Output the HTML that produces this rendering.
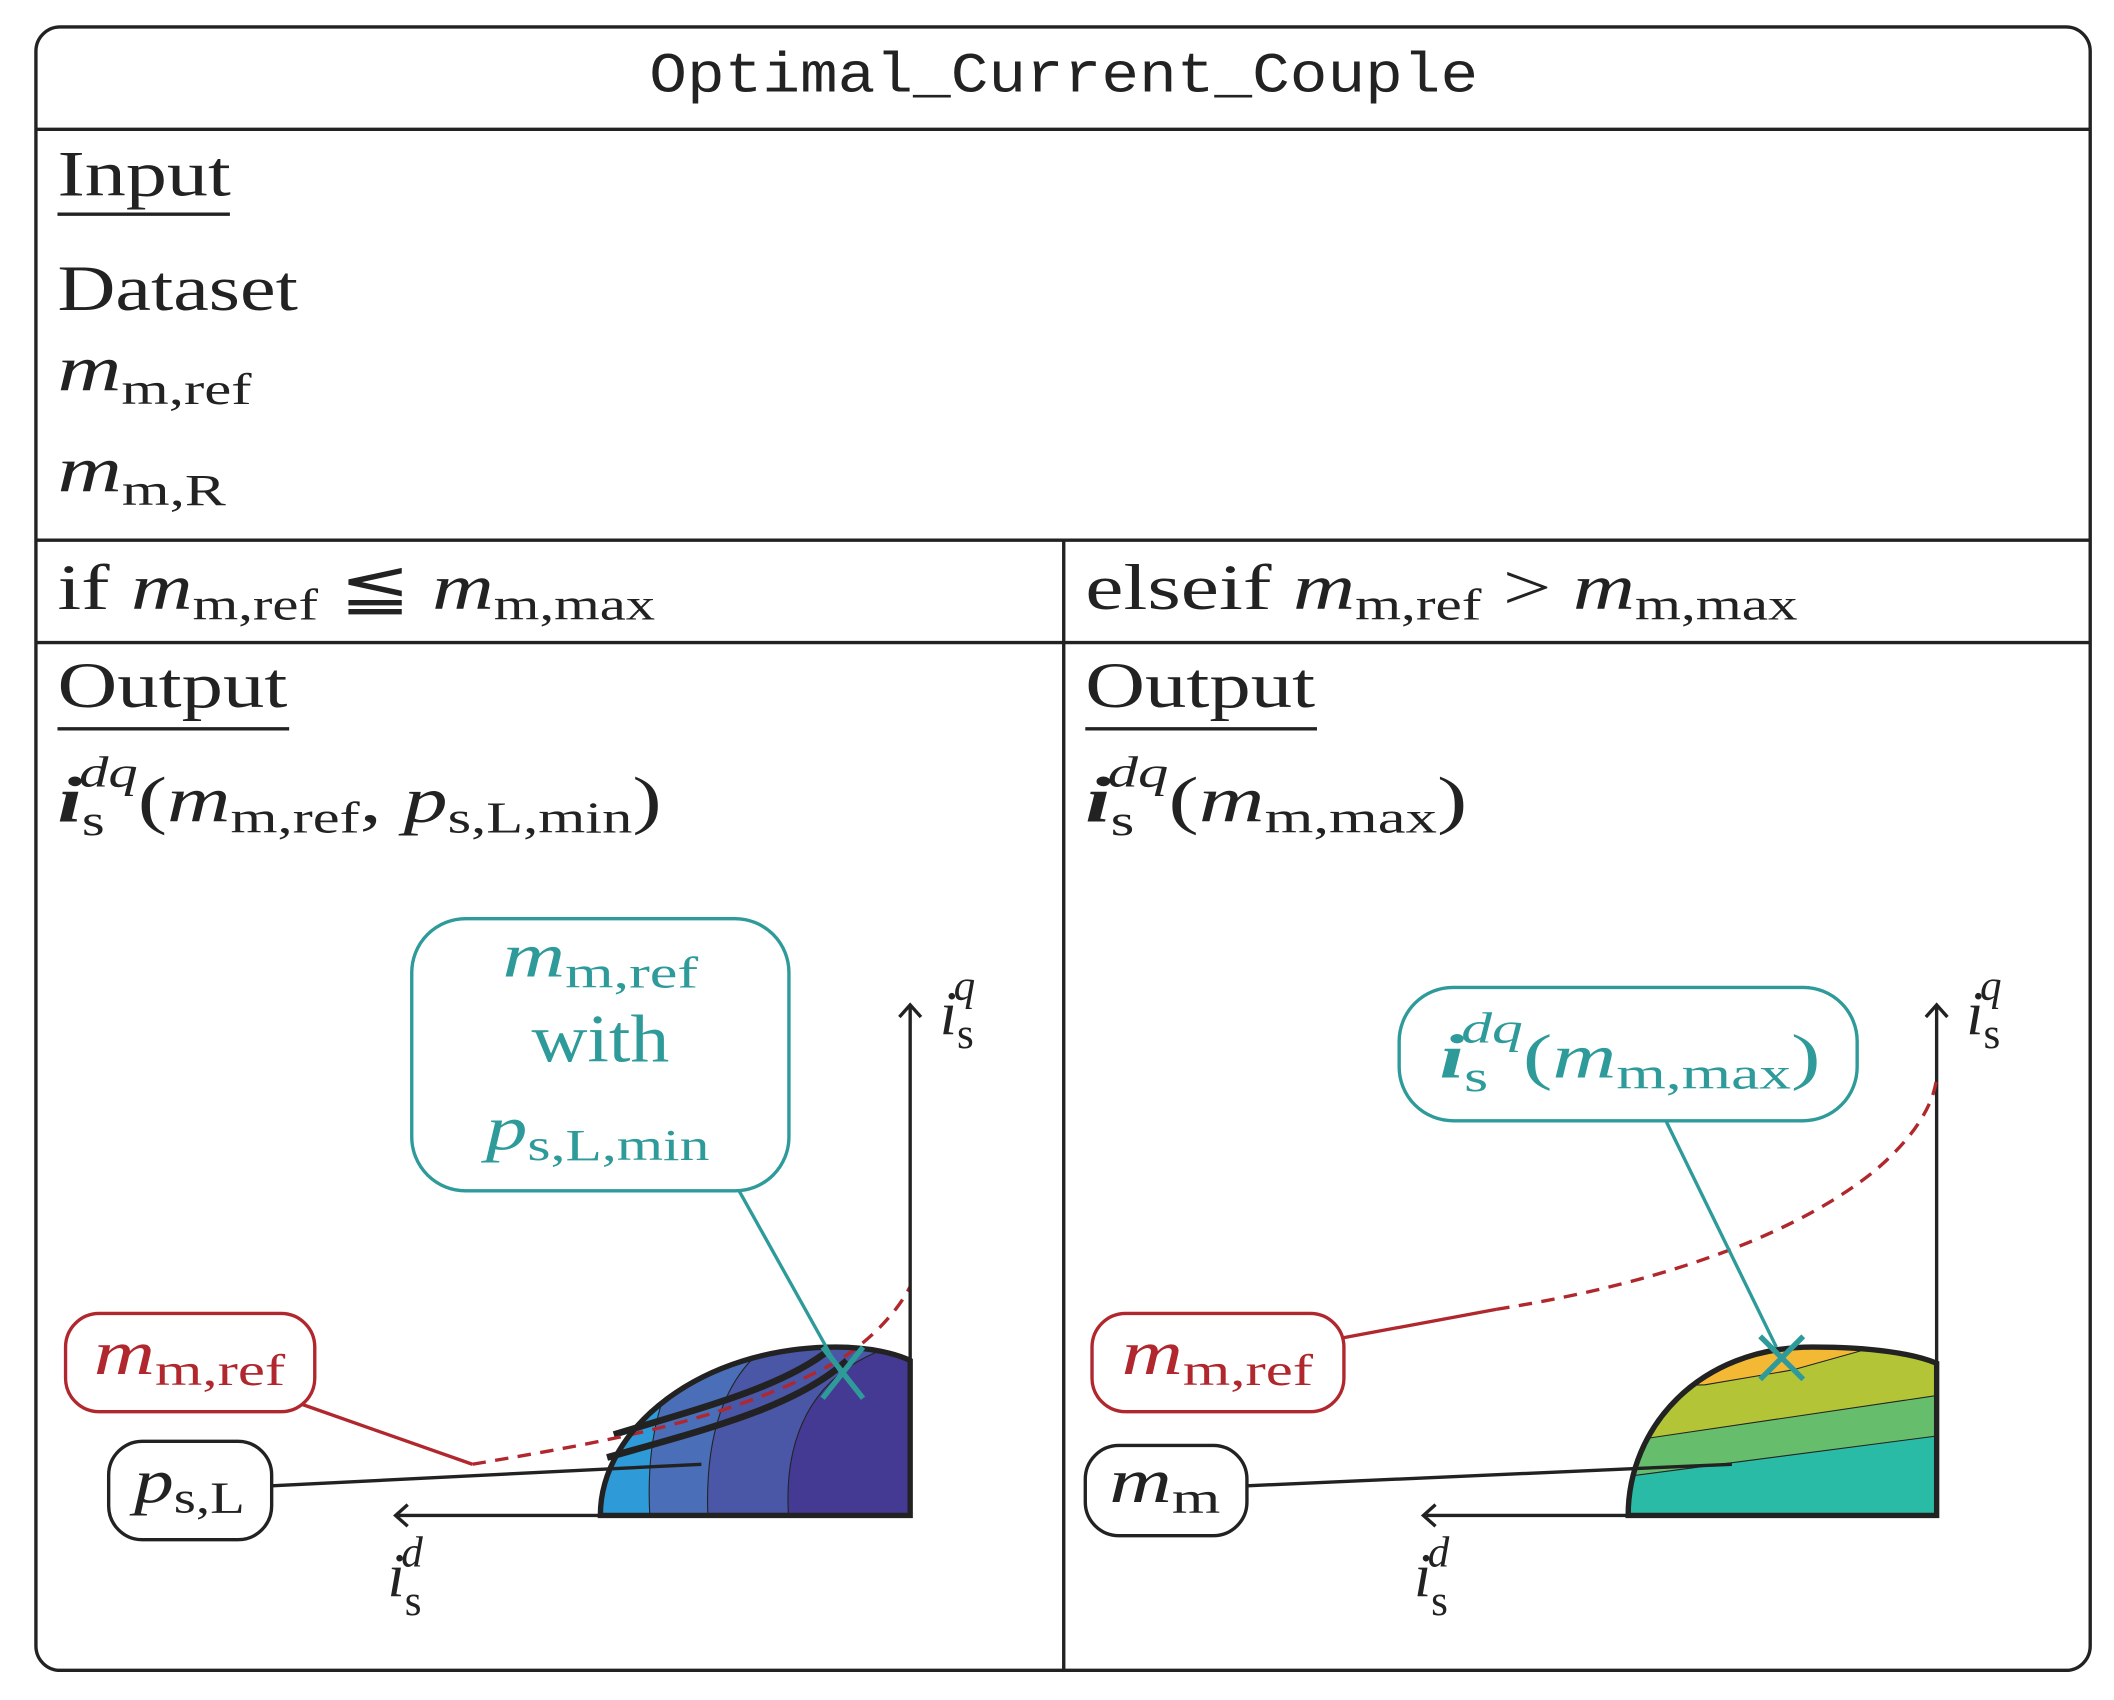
<!DOCTYPE html>
<html><head><meta charset="utf-8"><style>
html,body{margin:0;padding:0;background:#fff}
svg{display:block}
text{font-family:"Liberation Serif",serif;fill:#222}
.it{font-style:italic}
.mono{font-family:"Liberation Mono",monospace}
</style></head><body>
<svg width="2114" height="1700" viewBox="0 0 1568 1262" xmlns="http://www.w3.org/2000/svg">
<defs>
<clipPath id="cl"><path d="M445,1125 C445,1060 520,1000 620,1000 C645,1000 665,1005 675,1010 L675,1125 Z"/></clipPath>
<clipPath id="cr"><path d="M1208,1125 C1208,1060 1260,1000 1345,1000 C1390,1000 1420,1005 1437,1012 L1437,1125 Z"/></clipPath>
</defs>
<rect x="26" y="20" width="1525" height="1220" rx="18" fill="none" stroke="#222" stroke-width="2.5"/>
<line x1="26" y1="96" x2="1551" y2="96" stroke="#222" stroke-width="2.5"/>
<line x1="26" y1="401" x2="1551" y2="401" stroke="#222" stroke-width="2.5"/>
<line x1="26" y1="477" x2="1551" y2="477" stroke="#222" stroke-width="2.5"/>
<line x1="789" y1="401" x2="789" y2="1240" stroke="#222" stroke-width="2.5"/>
<g transform="translate(789,0) scale(1.11,1) translate(-789,0)"><text x="789" y="68" class="mono" font-size="42" text-anchor="middle">Optimal_Current_Couple</text></g>
<g transform="translate(42,0) scale(1.27,1) translate(-42,0)"><text x="42" y="145" font-size="48">Input</text></g>
<line x1="42" y1="159" x2="170" y2="159" stroke="#222" stroke-width="2.5"/>
<g transform="translate(42,0) scale(1.24,1) translate(-42,0)"><text x="42" y="230" font-size="48">Dataset</text></g>
<g transform="translate(42,0) scale(1.37,1) translate(-42,0)"><text x="42" y="290" font-size="48"><tspan class="it">m</tspan><tspan font-size="33" dy="10">m,ref</tspan></text></g>
<g transform="translate(42,0) scale(1.38,1) translate(-42,0)"><text x="42" y="365" font-size="48"><tspan class="it">m</tspan><tspan font-size="33" dy="10">m,R</tspan></text></g>
<g transform="translate(42,0) scale(1.32,1) translate(-42,0)"><text x="42" y="452" font-size="48">if <tspan class="it">m</tspan><tspan font-size="33" dy="8">m,ref</tspan><tspan dy="-8"> ≦ </tspan><tspan class="it">m</tspan><tspan font-size="33" dy="8">m,max</tspan></text></g>
<g transform="translate(805,0) scale(1.33,1) translate(-805,0)"><text x="805" y="452" font-size="48">elseif <tspan class="it">m</tspan><tspan font-size="33" dy="8">m,ref</tspan><tspan dy="-8"> &gt; </tspan><tspan class="it">m</tspan><tspan font-size="33" dy="8">m,max</tspan></text></g>
<g transform="translate(42,0) scale(1.28,1) translate(-42,0)"><text x="42" y="525" font-size="48">Output</text></g>
<line x1="42" y1="541" x2="214" y2="541" stroke="#222" stroke-width="2.5"/>
<g transform="translate(805,0) scale(1.28,1) translate(-805,0)"><text x="805" y="525" font-size="48">Output</text></g>
<line x1="805" y1="541" x2="977" y2="541" stroke="#222" stroke-width="2.5"/>
<g transform="translate(42,0) scale(1.36,1) translate(-42,0)"><text x="42" y="610" font-size="48"><tspan class="it" font-weight="bold">i</tspan><tspan font-size="32" dy="10">s</tspan><tspan class="it" font-size="32" dx="-14" dy="-36">dq</tspan><tspan dy="26">(</tspan><tspan class="it">m</tspan><tspan font-size="33" dy="8">m,ref</tspan><tspan dy="-8">, </tspan><tspan class="it">p</tspan><tspan font-size="33" dy="8">s,L,min</tspan><tspan dy="-8">)</tspan></text></g>
<g transform="translate(805,0) scale(1.41,1) translate(-805,0)"><text x="805" y="610" font-size="48"><tspan class="it" font-weight="bold">i</tspan><tspan font-size="32" dy="10">s</tspan><tspan class="it" font-size="32" dx="-14" dy="-36">dq</tspan><tspan dy="26">(</tspan><tspan class="it">m</tspan><tspan font-size="33" dy="8">m,max</tspan><tspan dy="-8">)</tspan></text></g>

<!-- left plot -->
<g clip-path="url(#cl)">
<rect x="440" y="990" width="240" height="140" fill="#2e9bd8"/>
<path d="M482,1130 C478,1070 490,1020 520,995 L680,990 L680,1130Z" fill="#4a6fb8" stroke="#222" stroke-width="0.8"/>
<path d="M525,1130 C522,1070 535,1020 575,995 L680,990 L680,1130Z" fill="#4a56a6" stroke="#222" stroke-width="0.8"/>
<path d="M585,1130 C580,1070 600,1020 660,1000 L680,990 L680,1130Z" fill="#443a94" stroke="#222" stroke-width="0.8"/>
</g>
<path d="M455,1065 C520,1045 580,1030 615,1002" fill="none" stroke="#222" stroke-width="5"/>
<path d="M450,1082 C520,1062 590,1045 628,1010" fill="none" stroke="#222" stroke-width="5"/>
<path d="M350,1087 C450,1070 540,1055 622,1010 C645,995 665,975 675,955" fill="none" stroke="#b0272d" stroke-width="2.5" stroke-dasharray="10,7"/>
<path d="M445,1125 C445,1060 520,1000 620,1000 C645,1000 665,1005 675,1010 L675,1125 Z" fill="none" stroke="#222" stroke-width="4"/>
<line x1="675" y1="1125" x2="295" y2="1125" stroke="#222" stroke-width="2.5"/>
<path d="M302,1117 L293,1125 L302,1133" fill="none" stroke="#222" stroke-width="2.5"/>
<line x1="675" y1="1125" x2="675" y2="746" stroke="#222" stroke-width="2.5"/>
<path d="M667,755 L675,746 L683,755" fill="none" stroke="#222" stroke-width="2.5"/>
<text x="697" y="768" font-size="46"><tspan class="it">i</tspan><tspan font-size="32" dy="10">s</tspan><tspan class="it" font-size="32" dx="-15" dy="-36">q</tspan></text>
<text x="287" y="1185" font-size="46"><tspan class="it">i</tspan><tspan font-size="32" dy="14">s</tspan><tspan class="it" font-size="32" dx="-15" dy="-36">d</tspan></text>
<line x1="222" y1="1042" x2="350" y2="1087" stroke="#b0272d" stroke-width="2.5"/>
<rect x="48" y="975" width="185" height="73" rx="25" fill="#fff" stroke="#b0272d" stroke-width="2.5"/>
<g transform="translate(140,0) scale(1.37,1) translate(-140,0)"><text x="140" y="1020" font-size="46" text-anchor="middle" style="fill:#b0272d"><tspan class="it" style="fill:#b0272d">m</tspan><tspan font-size="33" dy="8" style="fill:#b0272d">m,ref</tspan></text></g>
<line x1="201" y1="1103" x2="520" y2="1087" stroke="#222" stroke-width="2.5"/>
<rect x="80" y="1070" width="121" height="73" rx="25" fill="#fff" stroke="#222" stroke-width="2.5"/>
<g transform="translate(140,0) scale(1.28,1) translate(-140,0)"><text x="140" y="1115" font-size="46" text-anchor="middle"><tspan class="it">p</tspan><tspan font-size="33" dy="8">s,L</tspan></text></g>
<line x1="548" y1="884" x2="625" y2="1022" stroke="#2e9a9a" stroke-width="2.5"/>
<path d="M610,1000 L640,1038 M640,1000 L610,1038" stroke="#2e9a9a" stroke-width="4"/>
<rect x="305" y="682" width="280" height="202" rx="40" fill="#fff" stroke="#2e9a9a" stroke-width="2.5"/>
<g transform="translate(445,0) scale(1.4,1) translate(-445,0)"><text x="445" y="725" font-size="46" text-anchor="middle" style="fill:#2e9a9a"><tspan class="it" style="fill:#2e9a9a">m</tspan><tspan font-size="33" dy="8" style="fill:#2e9a9a">m,ref</tspan></text></g>
<g transform="translate(445,0) scale(1.15,1) translate(-445,0)"><text x="445" y="788" font-size="50" text-anchor="middle" style="fill:#2e9a9a">with</text></g>
<g transform="translate(443,0) scale(1.34,1) translate(-443,0)"><text x="443" y="853" font-size="46" text-anchor="middle" style="fill:#2e9a9a"><tspan class="it" style="fill:#2e9a9a">p</tspan><tspan font-size="33" dy="8" style="fill:#2e9a9a">s,L,min</tspan></text></g>

<!-- right plot -->
<g clip-path="url(#cr)">
<rect x="1200" y="990" width="245" height="140" fill="#2abba6"/>
<path d="M1200,1097 L1437,1066 L1445,990 L1200,990Z" fill="#66be6c" stroke="#222" stroke-width="0.8"/>
<path d="M1200,1071 L1437,1036 L1445,990 L1200,990Z" fill="#b3c537" stroke="#222" stroke-width="0.8"/>
<path d="M1200,1030 L1265,1028 L1330,1017 L1380,1003 L1380,990 L1200,990Z" fill="#f3b935" stroke="#222" stroke-width="0.8"/>
</g>
<path d="M1208,1125 C1208,1060 1260,1000 1345,1000 C1390,1000 1420,1005 1437,1012 L1437,1125 Z" fill="none" stroke="#222" stroke-width="4"/>
<line x1="1437" y1="1125" x2="1058" y2="1125" stroke="#222" stroke-width="2.5"/>
<path d="M1065,1117 L1056,1125 L1065,1133" fill="none" stroke="#222" stroke-width="2.5"/>
<line x1="1437" y1="1125" x2="1437" y2="746" stroke="#222" stroke-width="2.5"/>
<path d="M1429,755 L1437,746 L1445,755" fill="none" stroke="#222" stroke-width="2.5"/>
<text x="1459" y="768" font-size="46"><tspan class="it">i</tspan><tspan font-size="32" dy="10">s</tspan><tspan class="it" font-size="32" dx="-15" dy="-36">q</tspan></text>
<text x="1049" y="1185" font-size="46"><tspan class="it">i</tspan><tspan font-size="32" dy="14">s</tspan><tspan class="it" font-size="32" dx="-15" dy="-36">d</tspan></text>
<path d="M1110,972 C1250,950 1340,910 1390,870 C1420,845 1435,820 1437,800" fill="none" stroke="#b0272d" stroke-width="2.5" stroke-dasharray="10,7"/>
<line x1="997" y1="993" x2="1110" y2="972" stroke="#b0272d" stroke-width="2.5"/>
<rect x="810" y="975" width="187" height="73" rx="25" fill="#fff" stroke="#b0272d" stroke-width="2.5"/>
<g transform="translate(903,0) scale(1.37,1) translate(-903,0)"><text x="903" y="1020" font-size="46" text-anchor="middle" style="fill:#b0272d"><tspan class="it" style="fill:#b0272d">m</tspan><tspan font-size="33" dy="8" style="fill:#b0272d">m,ref</tspan></text></g>
<line x1="925" y1="1103" x2="1285" y2="1087" stroke="#222" stroke-width="2.5"/>
<rect x="805" y="1073" width="120" height="67" rx="25" fill="#fff" stroke="#222" stroke-width="2.5"/>
<g transform="translate(864,0) scale(1.4,1) translate(-864,0)"><text x="864" y="1115" font-size="46" text-anchor="middle"><tspan class="it">m</tspan><tspan font-size="33" dy="8">m</tspan></text></g>
<line x1="1236" y1="832" x2="1318" y2="1000" stroke="#2e9a9a" stroke-width="2.5"/>
<path d="M1306,992 L1338,1024 M1338,992 L1306,1024" stroke="#2e9a9a" stroke-width="4"/>
<rect x="1038" y="733" width="340" height="99" rx="40" fill="#fff" stroke="#2e9a9a" stroke-width="2.5"/>
<g transform="translate(1068,0) scale(1.43,1) translate(-1068,0)"><text x="1068" y="800" font-size="46" style="fill:#2e9a9a"><tspan class="it" font-weight="bold" style="fill:#2e9a9a">i</tspan><tspan font-size="32" dy="10" style="fill:#2e9a9a">s</tspan><tspan class="it" font-size="32" dx="-14" dy="-36" style="fill:#2e9a9a">dq</tspan><tspan dy="26" style="fill:#2e9a9a">(</tspan><tspan class="it" style="fill:#2e9a9a">m</tspan><tspan font-size="33" dy="8" style="fill:#2e9a9a">m,max</tspan><tspan dy="-8" style="fill:#2e9a9a">)</tspan></text></g>
</svg>
</body></html>
